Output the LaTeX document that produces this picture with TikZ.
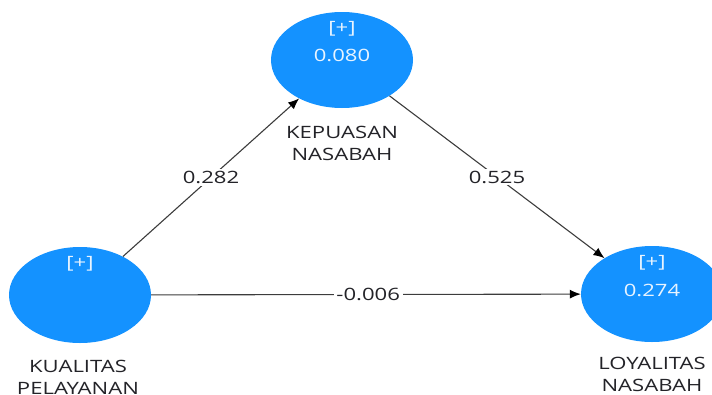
\documentclass[tikz,border=0pt]{standalone}
\usepackage{fontspec}
\setmainfont{Open Sans}
\usetikzlibrary{shapes.geometric,arrows.meta}
\definecolor{lvblue}{RGB}{20,146,255}
\definecolor{lvtext}{RGB}{35,35,40}
\definecolor{lvedge}{RGB}{60,60,60}
\tikzset{
  latent/.style={ellipse, fill=lvblue, draw=none, minimum width=142pt, minimum height=96pt, inner sep=0pt},
  intxt/.style={text=white!90!lvblue, font=\fontsize{17}{17}\selectfont, xscale=1.3, inner sep=0pt},
  lbl/.style={text=lvtext, font=\fontsize{17}{22}\selectfont, xscale=1.3, align=center, inner sep=0pt},
  path/.style={draw=lvedge, line width=1.1pt, -{Latex[length=11pt,width=9pt,color=black]}},
  coef/.style={fill=white, text=lvtext, font=\fontsize{17}{17}\selectfont, xscale=1.3, inner sep=2pt}
}
\begin{document}
\begin{tikzpicture}[x=1pt,y=1pt]
  \useasboundingbox (0,0) rectangle (712,-394);
  \clip (0,0) rectangle (712,-394);

  % latent variables
  \node[latent] (kp) at (342,-60) {};
  \node[latent] (kl) at (80,-295) {};
  \node[latent] (ly) at (652,-294) {};

  % inner texts
  \node[intxt] (kpplus) at ([yshift=31pt]kp.center) {[+]};
  \node[intxt] (kpr2)   at ([yshift=5pt]kp.center) {0.080};
  \node[intxt] (klplus) at ([yshift=31pt]kl.center) {[+]};
  \node[intxt] (lyplus) at ([yshift=31pt]ly.center) {[+]};
  \node[intxt] (lyr2)   at ([yshift=4pt]ly.center) {0.274};

  % construct names
  \node[lbl] (kpname) at (342,-143) {KEPUASAN\\NASABAH};
  \node[lbl] (klname) at (78,-377) {KUALITAS\\PELAYANAN};
  \node[lbl] (lyname) at (652,-374) {LOYALITAS\\NASABAH};

  % structural paths
  \draw[path] (kl) -- node[coef, pos=0.5] {0.282} (kp);
  \draw[path] (kp) -- node[coef, pos=0.5] {0.525} (ly);
  \draw[path] (kl) -- node[coef, pos=0.505] {-0.006} (ly);
\end{tikzpicture}
\end{document}
